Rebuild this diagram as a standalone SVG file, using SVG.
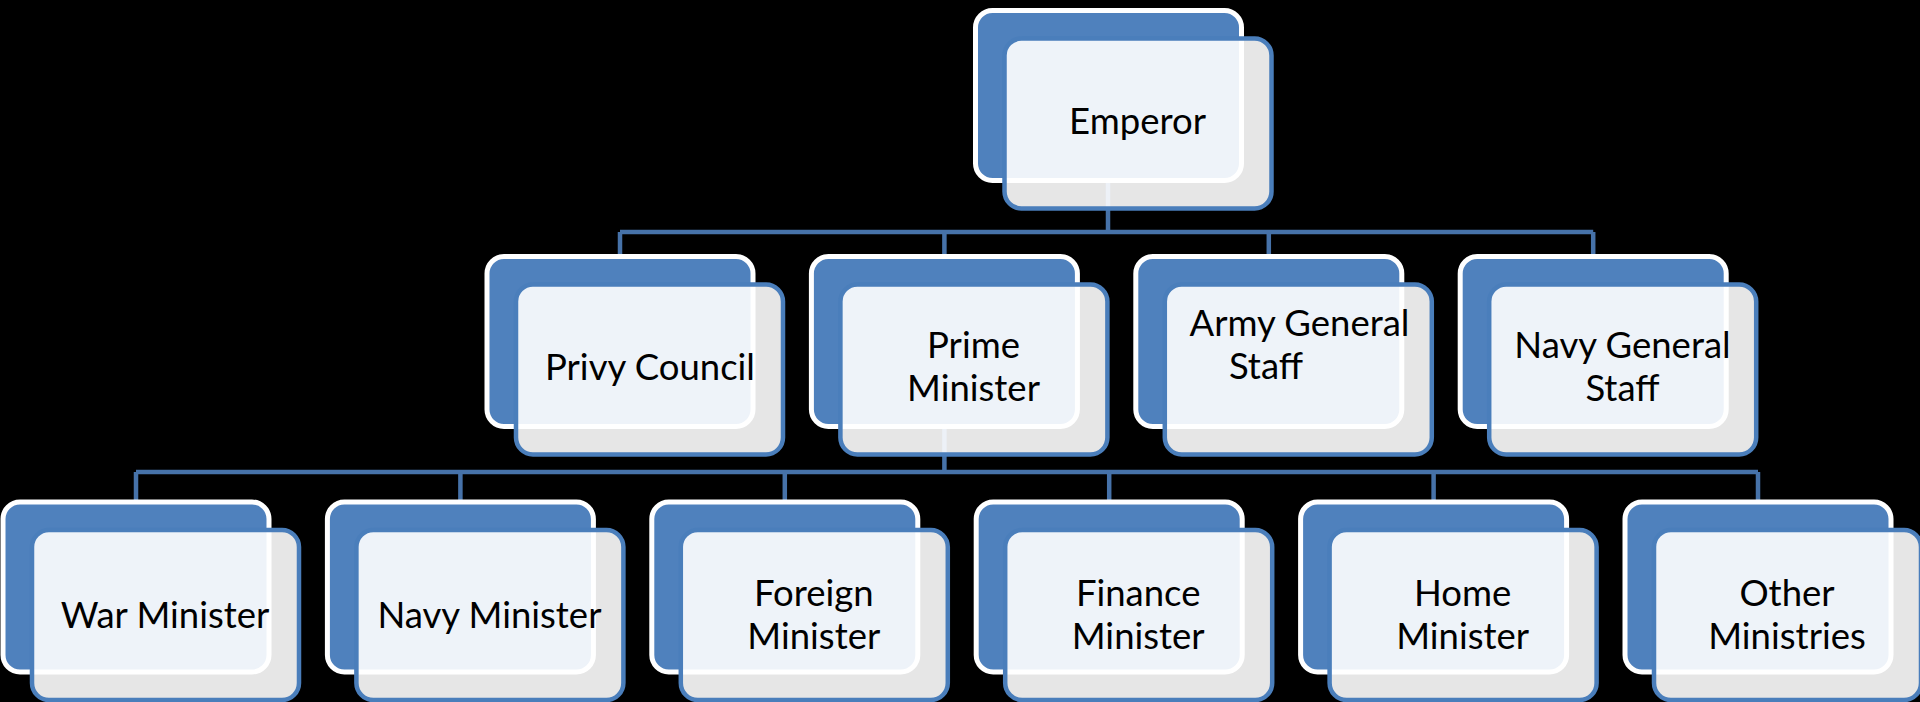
<svg xmlns="http://www.w3.org/2000/svg" width="1920" height="702" viewBox="0 0 1920 702">
<style>
.bg{fill:#000000}
.back{fill:#4F81BD;stroke:#FFFFFF;stroke-width:5}
.front{fill:#FFFFFF;fill-opacity:0.9;stroke:#4A7EBB;stroke-width:4.5}
.conn{fill:none;stroke:#4672A9;stroke-width:4.5}
text{font-family:Lato,"Open Sans","Liberation Sans",sans-serif;font-size:36.5px;fill:#000000;text-anchor:middle}
</style>
<rect class="bg" x="0" y="0" width="1920" height="702"/>
<g id="connectors">
<path class="conn" d="M1108,180 V232 M620,232 H1593.2 M620,232 V257 M944.4,232 V257 M1268.8,232 V257 M1593.2,232 V257"/>
<path class="conn" d="M944.4,426 V472 M136,472 H1758 M136,472 V503 M460.4,472 V503 M784.8,472 V503 M1109.2,472 V503 M1433.6,472 V503 M1758,472 V503"/>
</g>
<g id="emperor">
<rect class="back" x="975.5" y="10.5" width="266" height="170" rx="17"/>
<rect class="front" x="1004.5" y="38.5" width="267" height="170" rx="17"/>
<text x="1137.5" y="134">Emperor</text>
</g>
<g id="privy-council">
<rect class="back" x="487" y="256.5" width="266" height="170" rx="17"/>
<rect class="front" x="516" y="284.5" width="267" height="170" rx="17"/>
<text x="650" y="380">Privy Council</text>
</g>
<g id="prime-minister">
<rect class="back" x="811.4" y="256.5" width="266" height="170" rx="17"/>
<rect class="front" x="840.4" y="284.5" width="267" height="170" rx="17"/>
<text x="973.5" y="358">Prime</text>
<text x="973.5" y="401">Minister</text>
</g>
<g id="army-general-staff">
<rect class="back" x="1135.8" y="256.5" width="266" height="170" rx="17"/>
<rect class="front" x="1164.8" y="284.5" width="267" height="170" rx="17"/>
<text x="1299.5" y="336">Army General</text>
<text x="1266" y="379">Staff</text>
</g>
<g id="navy-general-staff">
<rect class="back" x="1460.2" y="256.5" width="266" height="170" rx="17"/>
<rect class="front" x="1489.2" y="284.5" width="267" height="170" rx="17"/>
<text x="1622.5" y="358">Navy General</text>
<text x="1622.5" y="401">Staff</text>
</g>
<g id="war-minister">
<rect class="back" x="3" y="502" width="266" height="170" rx="17"/>
<rect class="front" x="32" y="530" width="267" height="170" rx="17"/>
<text x="165" y="628">War Minister</text>
</g>
<g id="navy-minister">
<rect class="back" x="327.4" y="502" width="266" height="170" rx="17"/>
<rect class="front" x="356.4" y="530" width="267" height="170" rx="17"/>
<text x="489.4" y="628">Navy Minister</text>
</g>
<g id="foreign-minister">
<rect class="back" x="651.8" y="502" width="266" height="170" rx="17"/>
<rect class="front" x="680.8" y="530" width="267" height="170" rx="17"/>
<text x="813.8" y="606">Foreign</text>
<text x="813.8" y="649">Minister</text>
</g>
<g id="finance-minister">
<rect class="back" x="976.2" y="502" width="266" height="170" rx="17"/>
<rect class="front" x="1005.2" y="530" width="267" height="170" rx="17"/>
<text x="1138.2" y="606">Finance</text>
<text x="1138.2" y="649">Minister</text>
</g>
<g id="home-minister">
<rect class="back" x="1300.6" y="502" width="266" height="170" rx="17"/>
<rect class="front" x="1329.6" y="530" width="267" height="170" rx="17"/>
<text x="1462.6" y="606">Home</text>
<text x="1462.6" y="649">Minister</text>
</g>
<g id="other-ministries">
<rect class="back" x="1625" y="502" width="266" height="170" rx="17"/>
<rect class="front" x="1654" y="530" width="267" height="170" rx="17"/>
<text x="1787" y="606">Other</text>
<text x="1787" y="649">Ministries</text>
</g>
</svg>
